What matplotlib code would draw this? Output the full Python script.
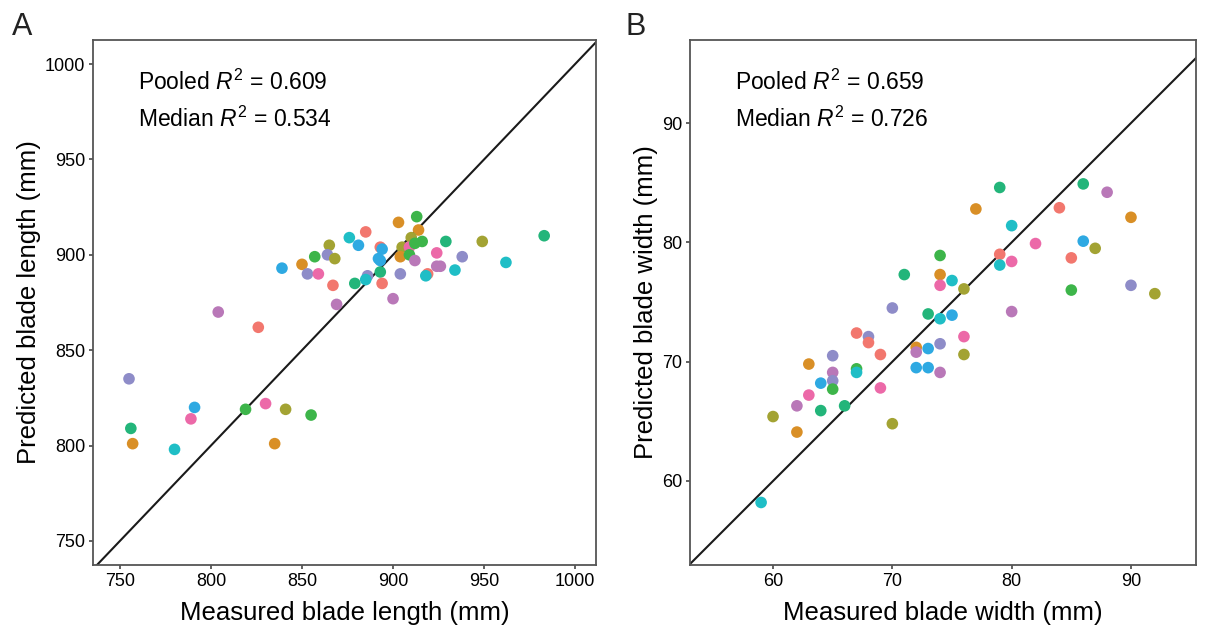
import numpy as np
import matplotlib.pyplot as plt

plt.rcParams['font.family'] = ['Liberation Sans', 'DejaVu Sans']
plt.rcParams['mathtext.fontset'] = 'custom'
plt.rcParams['mathtext.it'] = 'Liberation Sans:italic'
plt.rcParams['mathtext.rm'] = 'Liberation Sans'

pal = {'salmon': '#F2776E', 'orange': '#D98F26', 'olive': '#A3A333', 'green': '#3DB54A',
       'teal': '#23B57A', 'cyan': '#1FBEC6', 'blue': '#2EA9E2', 'lav': '#8E8CC8',
       'mauve': '#B978B8', 'pink': '#EC69A8'}

# Panel A: blade length (mm)
len_meas = [755, 756, 757, 780, 791, 789, 804, 826, 819, 830, 841, 835, 855,
            839, 850, 853, 859, 857, 865, 864, 868, 867, 869, 876, 881, 885,
            879, 886, 885, 893, 894, 900, 904, 903, 913, 914, 910, 893, 894,
            892, 893, 905, 904, 909, 909, 912, 912, 916, 929, 924, 938, 926,
            924, 919, 918, 934, 949, 962, 983]
len_pred = [835, 809, 801, 798, 820, 814, 870, 862, 819, 822, 819, 801, 816,
            893, 895, 890, 890, 899, 905, 900, 898, 884, 874, 909, 905, 912,
            885, 889, 887, 891, 885, 877, 890, 917, 920, 913, 909, 904, 903,
            898, 897, 904, 899, 904, 900, 897, 906, 907, 907, 901, 899, 894,
            894, 890, 889, 892, 907, 896, 910]
len_grp = ['lav', 'teal', 'orange', 'cyan', 'blue', 'pink', 'mauve', 'salmon', 'green', 'pink',
           'olive', 'orange', 'green', 'blue', 'orange', 'lav', 'pink', 'green', 'olive', 'lav',
           'olive', 'salmon', 'mauve', 'cyan', 'blue', 'salmon', 'teal', 'lav', 'cyan', 'teal',
           'salmon', 'mauve', 'lav', 'orange', 'green', 'orange', 'olive', 'salmon', 'blue',
           'blue', 'blue', 'olive', 'orange', 'pink', 'green', 'mauve', 'green', 'green', 'teal',
           'pink', 'lav', 'mauve', 'mauve', 'salmon', 'cyan', 'cyan', 'olive', 'cyan', 'teal']

# Panel B: blade width (mm)
wid_meas = [79, 86, 88, 77, 84, 90, 80, 82, 86, 87, 79, 79, 80, 85, 74, 71, 74,
            74, 75, 76, 85, 90, 92, 70, 73, 74, 75, 80, 76, 72, 72, 73, 74, 76,
            69, 67, 68, 68, 65, 63, 65, 64, 65, 65, 63, 62, 60, 64, 66, 62, 67,
            67, 69, 70, 72, 73, 74, 59]
wid_pred = [84.6, 84.9, 84.2, 82.8, 82.9, 82.1, 81.4, 79.9, 80.1, 79.5, 79.0,
            78.1, 78.4, 78.7, 78.9, 77.3, 77.3, 76.4, 76.8, 76.1, 76.0, 76.4,
            75.7, 74.5, 74.0, 73.6, 73.9, 74.2, 72.1, 71.2, 70.8, 71.1, 71.5,
            70.6, 70.6, 72.4, 72.1, 71.6, 70.5, 69.8, 69.1, 68.2, 68.4, 67.7,
            67.2, 66.3, 65.4, 65.9, 66.3, 64.1, 69.4, 69.1, 67.8, 64.8, 69.5,
            69.5, 69.1, 58.2]
wid_grp = ['teal', 'teal', 'mauve', 'orange', 'salmon', 'orange', 'cyan', 'pink', 'blue',
           'olive', 'salmon', 'cyan', 'pink', 'salmon', 'green', 'teal', 'orange', 'pink',
           'cyan', 'olive', 'green', 'lav', 'olive', 'lav', 'teal', 'cyan', 'blue', 'mauve',
           'pink', 'orange', 'mauve', 'blue', 'lav', 'olive', 'salmon', 'salmon', 'lav',
           'salmon', 'lav', 'orange', 'mauve', 'blue', 'lav', 'green', 'pink', 'mauve', 'olive',
           'teal', 'teal', 'orange', 'green', 'cyan', 'pink', 'olive', 'blue', 'blue', 'mauve',
           'cyan']

fig = plt.figure(figsize=(12.12, 6.3), dpi=100)
axA = fig.add_axes([0.0767, 0.1032, 0.4151, 0.8333])
axB = fig.add_axes([0.5693, 0.1032, 0.4175, 0.8333])


def panel(ax, xs, ys, grp, xlim, ylim, ticks, xlab, ylab, txt):
    ax.plot([0, 2000], [0, 2000], color='#1a1a1a', lw=1.5, zorder=1)
    ax.scatter(xs, ys, c=[pal[g] for g in grp], s=70, linewidths=0, zorder=2)
    ax.set_xlim(xlim)
    ax.set_ylim(ylim)
    ax.set_xticks(ticks[0])
    ax.set_yticks(ticks[1])
    for sp in ax.spines.values():
        sp.set_color('#555555')
        sp.set_linewidth(1.3)
    ax.tick_params(colors='#555555', labelcolor='black', labelsize=13,
                   width=1.3, length=3, pad=2.5)
    ax.set_xlabel(xlab, fontsize=18.5, labelpad=8)
    ax.set_ylabel(ylab, fontsize=18.5, labelpad=3)
    ax.text(0.089, 0.905, 'Pooled $R^2$ = ' + txt[0], transform=ax.transAxes,
            fontsize=16.5, va='baseline')
    ax.text(0.089, 0.834, 'Median $R^2$ = ' + txt[1], transform=ax.transAxes,
            fontsize=16.5, va='baseline')


panel(axA, len_meas, len_pred, len_grp, (735.2, 1011.5), (737.4, 1012.6),
      ([750, 800, 850, 900, 950, 1000], [750, 800, 850, 900, 950, 1000]),
      'Measured blade length (mm)', 'Predicted blade length (mm)', ('0.609', '0.534'))
panel(axB, wid_meas, wid_pred, wid_grp, (53.04, 95.45), (52.96, 96.96),
      ([60, 70, 80, 90], [60, 70, 80, 90]),
      'Measured blade width (mm)', 'Predicted blade width (mm)', ('0.659', '0.726'))

fig.text(0.0099, 0.945, 'A', fontsize=22, color='#222222')
fig.text(0.5165, 0.945, 'B', fontsize=22, color='#222222')

fig.savefig('out.png', dpi=100)
